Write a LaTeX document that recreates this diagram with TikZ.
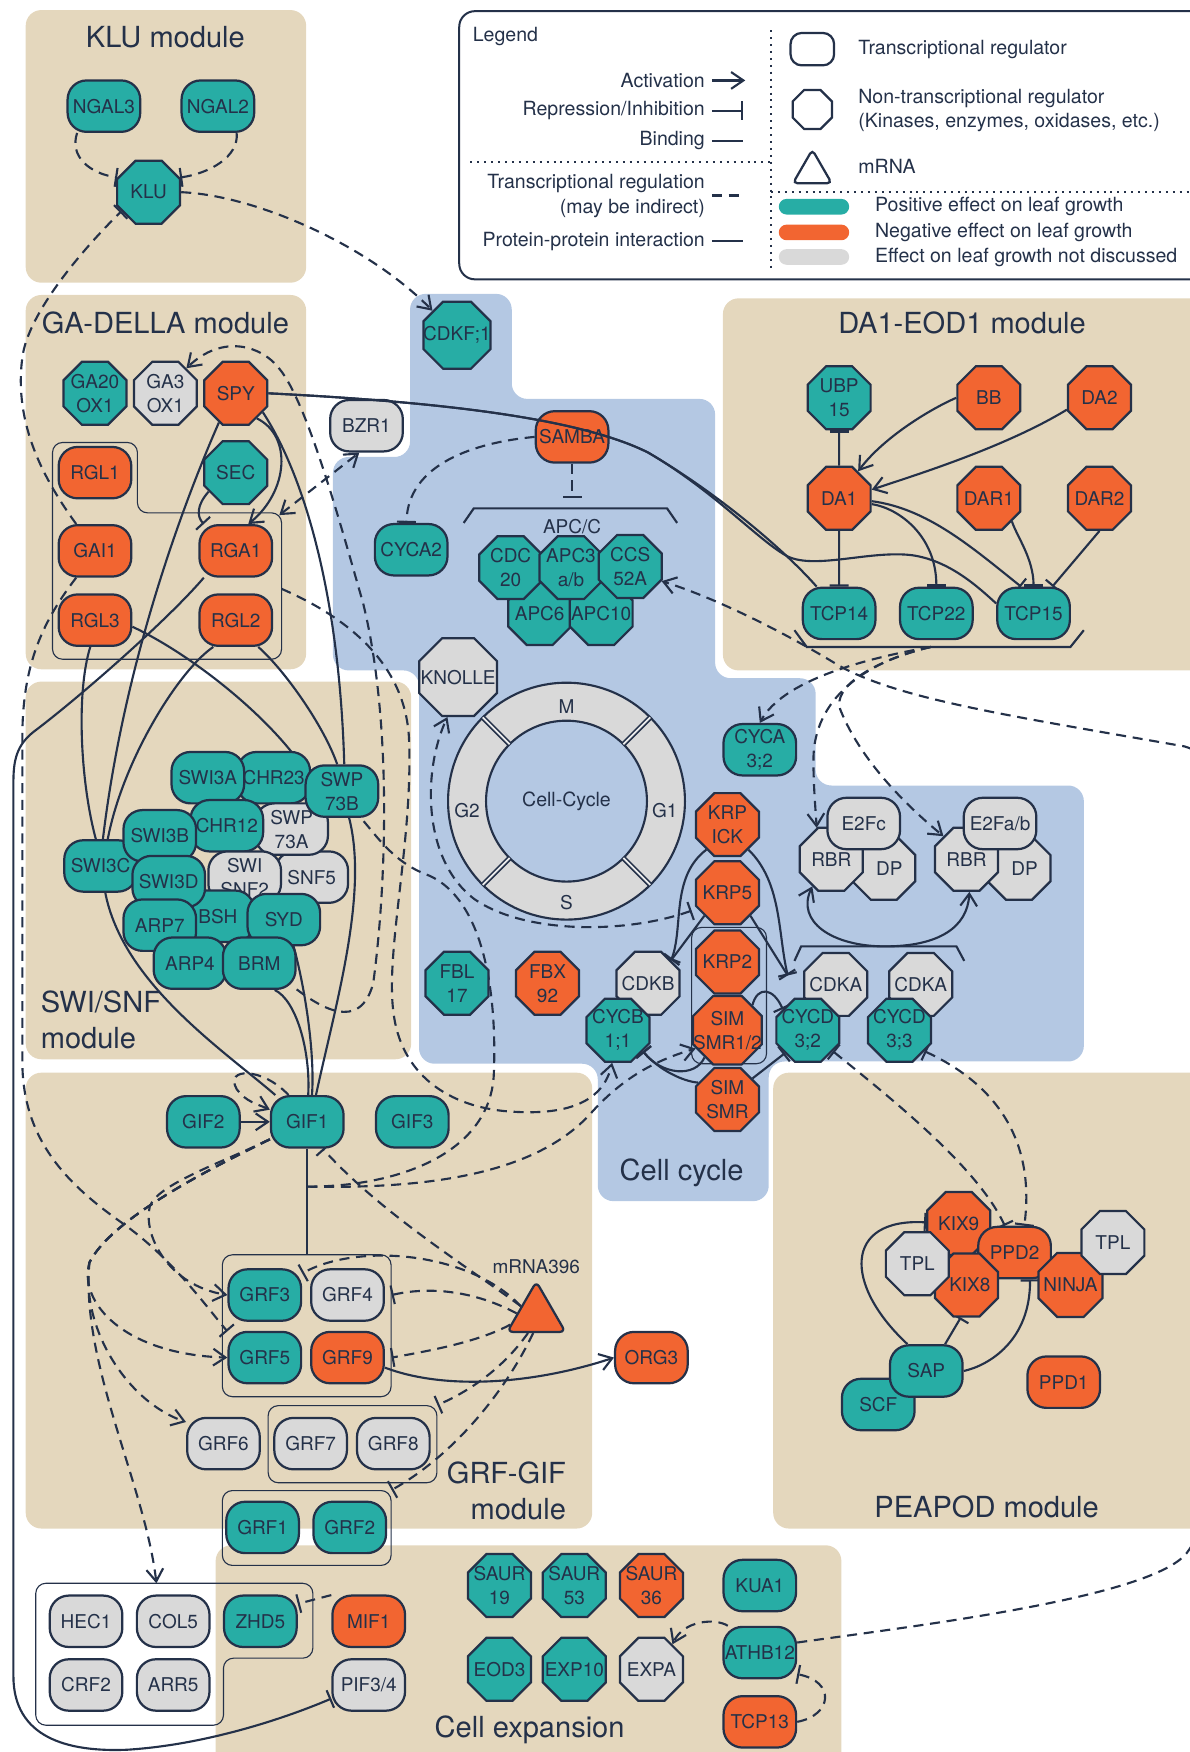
\documentclass[tikz,border=0pt]{standalone}
\usepackage{fontspec}
\setmainfont{TeX Gyre Heros}
\usetikzlibrary{arrows.meta,shapes.geometric}

\definecolor{inkc}{HTML}{243149}
\definecolor{posc}{HTML}{27ADA5}
\definecolor{negc}{HTML}{F26531}
\definecolor{neuc}{HTML}{D9D9D9}
\definecolor{modc}{HTML}{E4D7BD}
\definecolor{cycc}{HTML}{B4C8E3}

\newcommand{\nodefont}{\fontsize{17}{21.5}\selectfont}
\newcommand{\titlefont}{\fontsize{26}{32}\selectfont}
\newcommand{\lgdfont}{\fontsize{17.5}{22}\selectfont}

\pgfdeclarelayer{back}
\pgfdeclarelayer{wire}
\pgfsetlayers{back,wire,main}

\tikzset{
  treg/.style={draw=inkc, line width=2pt, fill=#1, rounded corners=17pt,
    minimum width=65pt, minimum height=46pt, inner sep=0.5pt, align=center,
    text=inkc, font=\nodefont},
  oct/.style={draw=inkc, line width=2pt, fill=#1, regular polygon,
    regular polygon sides=8, minimum size=61pt, inner sep=-9pt, align=center,
    text=inkc, font=\nodefont},
  link/.style={draw=inkc, line width=1.9pt},
  act/.style={link, -{Straight Barb[length=11pt,width=15pt]}},
  inh/.style={link, -{Bar[width=17pt]}},
  both/.style={link, {Straight Barb[length=11pt,width=15pt]}-{Straight Barb[length=11pt,width=15pt]}},
  bars/.style={link, {Bar[width=17pt]}-{Bar[width=17pt]}},
  barto/.style={link, {Bar[width=17pt]}-{Straight Barb[length=11pt,width=15pt]}},
  dsh/.style={dash pattern=on 9pt off 6pt},
  dots/.style={draw=inkc, line width=1.8pt, dash pattern=on 1.8pt off 4.4pt},
  grp/.style={draw=inkc, line width=1pt, rounded corners=9pt},
  modbox/.style={fill=modc, rounded corners=14pt},
  modtitle/.style={text=inkc, font=\titlefont},
  lgd/.style={text=inkc, font=\lgdfont, inner sep=0pt},
  lbl/.style={text=inkc, font=\nodefont, inner sep=0pt},
}

\begin{document}
\begin{tikzpicture}[x=1pt,y=-1pt]
\useasboundingbox (0,0) rectangle (1065,1568);

% module backgrounds
\begin{pgfonlayer}{back}
  \fill[modbox] (23,9) rectangle (274,253);
  \fill[modbox] (23,264) rectangle (274,599);
  \fill[modbox] (23,610) rectangle (368,948);
  \fill[modbox] (23,960) rectangle (530,1368);
  \fill[modbox] (193,1383) rectangle (753,1600);
  \fill[modbox] (647,267) rectangle (1095,600);
  \fill[modbox] (692,960) rectangle (1095,1368);
  % cell cycle area
  \fill[cycc, rounded corners=14pt] (367,263) -- (458,263) -- (458,357) -- (640,357)
    -- (640,607) -- (730,607) -- (730,703) -- (970,703) -- (970,950) -- (688,950)
    -- (688,1075) -- (535,1075) -- (535,952) -- (375,952) -- (375,600) -- (298,600)
    -- (298,409) -- (367,409) -- cycle;
\end{pgfonlayer}

\node[modtitle] (tKLU) at (148,33) {KLU module};
\node[modtitle] (tGA) at (148,289) {GA-DELLA module};
\node[modtitle, anchor=west, align=left] (tSWI) at (33,913) {SWI/SNF\\module};
\node[modtitle, anchor=east, align=right] (tGRF) at (510,1334) {GRF-GIF\\module};
\node[modtitle] (tCC) at (610,1050) {Cell cycle};
\node[modtitle] (tDA) at (861,289) {DA1-EOD1 module};
\node[modtitle] (tPP) at (883,1349) {PEAPOD module};
\node[modtitle] (tCE) at (474,1548) {Cell expansion};

% legend
\draw[inkc, line width=1.8pt, rounded corners=14pt] (411,10) rectangle (1090,250);
\draw[dots] (690,27) -- (690,242);
\draw[dots] (421,145) -- (690,145);
\draw[dots] (690,172) -- (1065,172);
\node[lgd, anchor=west] (lgHead) at (423,33) {Legend};
\node[lgd, anchor=east] (lgAct) at (631,72) {Activation};
\node[lgd, anchor=east] (lgRep) at (631,99) {Repression/Inhibition};
\node[lgd, anchor=east] (lgBin) at (631,126) {Binding};
\node[lgd, anchor=east, align=right] (lgTxr) at (631,175.5) {Transcriptional regulation\\(may be indirect)};
\node[lgd, anchor=east] (lgPpi) at (631,216) {Protein-protein interaction};
\coordinate (la1) at (637,72);  \coordinate (la2) at (667,72);
\coordinate (lr1) at (637,99);  \coordinate (lr2) at (665,99);
\coordinate (lb1) at (637,126); \coordinate (lb2) at (665,126);
\coordinate (lt1) at (637,175); \coordinate (lt2) at (665,175);
\coordinate (lp1) at (637,216); \coordinate (lp2) at (665,216);
\draw[act] (la1) -- (la2);
\draw[inh] (lr1) -- (lr2);
\draw[link] (lb1) -- (lb2);
\draw[link,dsh] (lt1) -- (lt2);
\draw[link] (lp1) -- (lp2);
\node[treg=white, minimum width=39pt, minimum height=29pt, rounded corners=10pt] (lgTR) at (727,44) {};
\node[oct=white, minimum size=38pt] (lgNT) at (727,98) {};
\node[draw=inkc, line width=2pt, fill=white, regular polygon, regular polygon sides=3,
  minimum size=40pt, inner sep=0pt, rounded corners=4pt] (lgMR) at (727,154) {};
\node[lgd, anchor=west] (lgTRt) at (768,44) {Transcriptional regulator};
\node[lgd, anchor=west, align=left] (lgNTt) at (768,99) {Non-transcriptional regulator\\(Kinases, enzymes, oxidases, etc.)};
\node[lgd, anchor=west] (lgMRt) at (768,149) {mRNA};
\fill[posc, rounded corners=7pt] (697,178) rectangle (760,192);
\fill[negc, rounded corners=7pt] (697,201) rectangle (760,215);
\fill[neuc, rounded corners=7pt] (697,223) rectangle (760,237);
\node[lgd, anchor=west] (lgPos) at (783,185) {Positive effect on leaf growth};
\node[lgd, anchor=west] (lgNeg) at (783,208) {Negative effect on leaf growth};
\node[lgd, anchor=west] (lgNeu) at (783,230) {Effect on leaf growth not discussed};

% group outlines
\draw[grp] (47,396) -- (123,396) -- (123,459) -- (252,459) -- (252,590) -- (47,590) -- cycle;
\draw[grp] (32,1417) -- (280,1417) -- (280,1484) -- (200,1484) -- (200,1544) -- (32,1544) -- cycle;
\node[grp, minimum width=151pt, minimum height=127pt, inner sep=0pt] (grfA) at (274.5,1186.5) {};
\node[grp, minimum width=151pt, minimum height=69pt, inner sep=0pt] (grfB) at (315.5,1292.5) {};
\node[grp, minimum width=151pt, minimum height=67pt, inner sep=0pt] (grfC) at (274.5,1367.5) {};
\node[grp, minimum width=67pt, minimum height=122pt, inner sep=0pt] (krpbox) at (652.5,891) {};
\draw[link] (415,468) -- (424,455) -- (597,455) -- (606,468);
\draw[link] (711,860) -- (717,847) -- (856,847) -- (863,860);
\draw[link] (711,564) -- (722,579) -- (958,579) -- (970,564);
\coordinate (apc) at (512,446);
\coordinate (cdkx) at (705,873);
\coordinate (krpbar) at (619,815);
\coordinate (tcpb) at (833,579);
\coordinate (dellaC) at (250,461);
\coordinate (dellaR) at (252,527);
\coordinate (stem) at (275,1062);
\coordinate (hecA) at (140,1417);

% KLU module
\node[treg=posc] (NGAL3) at (93,95) {NGAL3};
\node[treg=posc] (NGAL2) at (195,95) {NGAL2};
\node[oct=posc] (KLU) at (133,172) {KLU};

% GA-DELLA module
\node[oct=posc] (GA20) at (85,352) {GA20\\OX1};
\node[oct=neuc] (GA3) at (148,352) {GA3\\OX1};
\node[oct=negc] (SPY) at (211,352) {SPY};
\node[treg=negc] (RGL1) at (85,423) {RGL1};
\node[oct=posc] (SEC) at (211,423) {SEC};
\node[treg=negc] (GAI1) at (85,493) {GAI1};
\node[treg=negc] (RGA1) at (211,493) {RGA1};
\node[treg=negc] (RGL3) at (85,555) {RGL3};
\node[treg=negc] (RGL2) at (211,555) {RGL2};
\node[treg=neuc] (BZR1) at (328,381) {BZR1};

% cell cycle
\node[oct=posc] (CDKF) at (409,300) {CDKF;1};
\node[treg=negc] (SAMBA) at (512,391) {SAMBA};
\node[treg=posc] (CYCA2) at (368,492) {CYCA2};
\node[lbl] (apcl) at (512,471) {APC/C};
\node[oct=posc] (APC6) at (483,549) {APC6};
\node[oct=posc] (APC10) at (538,549) {APC10};
\node[oct=posc] (CDC20) at (457,508) {CDC\\20};
\node[oct=posc] (APC3) at (511,508) {APC3\\a/b};
\node[oct=posc] (CCS52A) at (564,507) {CCS\\52A};
\node[oct=neuc] (KNOLLE) at (410,606) {KNOLLE};

\coordinate (cc) at (507,717);
\fill[neuc, even odd rule] (cc) circle[radius=106pt] (cc) circle[radius=72pt];
\draw[link] (cc) circle[radius=106pt];
\draw[link] (cc) circle[radius=72pt];
\foreach \a in {45,135,225,315}
  \draw[inkc, line width=1.5pt, double=neuc!50!white, double distance=1.6pt]
    ([shift={(\a:72pt)}]cc) -- ([shift={(\a:106pt)}]cc);
\node[lbl, font=\lgdfont] (ccl) at (cc) {Cell-Cycle};
\node[lbl] (phM) at (507,632) {M};
\node[lbl] (phS) at (507,808) {S};
\node[lbl] (phG1) at (595,725) {G1};
\node[lbl] (phG2) at (418,725) {G2};

\node[treg=posc] (CYCA32) at (680,671) {CYCA\\3;2};
\node[oct=negc] (KRPICK) at (651,738) {KRP\\ICK};
\node[oct=negc] (KRP5) at (651,799) {KRP5};
\node[oct=negc] (KRP2) at (651,861) {KRP2};
\node[oct=negc] (SIM12) at (651,922) {SIM\\SMR1/2};
\node[oct=negc] (SIMS) at (651,984) {SIM\\SMR};
\node[oct=posc] (FBL17) at (409,880) {FBL\\17};
\node[oct=negc] (FBX92) at (490,880) {FBX\\92};
\node[oct=neuc] (CDKB) at (580,880) {CDKB};
\node[oct=posc] (CYCB11) at (553,922) {CYCB\\1;1};
\node[oct=neuc] (CDKA1) at (748,881) {CDKA};
\node[oct=posc] (CYCD32) at (723,922) {CYCD\\3;2};
\node[oct=neuc] (CDKA2) at (824,881) {CDKA};
\node[oct=posc] (CYCD33) at (805,922) {CYCD\\3;3};
\node[oct=neuc] (DP1) at (791,777) {\hspace*{10pt}DP};
\node[oct=neuc] (RBR1) at (744,769) {RBR};
\node[treg=neuc] (E2Fc) at (773,737) {E2Fc};
\node[oct=neuc] (DP2) at (912,777) {\hspace*{10pt}DP};
\node[oct=neuc] (RBR2) at (865,769) {RBR};
\node[treg=neuc] (E2Fab) at (895,737) {E2Fa/b};

% DA1-EOD1 module
\node[oct=posc] (UBP15) at (751,356) {UBP\\15};
\node[oct=negc] (BB) at (885,356) {BB};
\node[oct=negc] (DA2) at (984,356) {DA2};
\node[oct=negc] (DA1) at (751,446) {DA1};
\node[oct=negc] (DAR1) at (885,446) {DAR1};
\node[oct=negc] (DAR2) at (984,446) {DAR2};
\node[treg=posc] (TCP14) at (751,549) {TCP14};
\node[treg=posc] (TCP22) at (838,549) {TCP22};
\node[treg=posc] (TCP15) at (925,549) {TCP15};

% SWI/SNF module
\begin{scope}[every node/.append style={minimum width=62pt}]
\node[treg=posc] (CHR23) at (245,696) {CHR23};
\node[treg=posc] (SWI3A) at (186,696) {SWI3A};
\node[treg=neuc] (SNF5) at (279,785) {SNF5};
\node[treg=neuc] (SWP73A) at (261,742) {SWP\\73A};
\node[treg=posc] (SWP73B) at (306,708) {SWP\\73B};
\node[treg=posc] (CHR12) at (203,739) {CHR12};
\node[treg=posc] (SWI3C) at (90,775) {SWI3C};
\node[treg=neuc] (SWISNF2) at (219,785) {SWI\\SNF2};
\node[treg=posc] (BSH) at (195,820) {BSH};
\node[treg=posc] (SWI3B) at (143,748) {SWI3B};
\node[treg=posc] (SWI3D) at (151,789) {SWI3D};
\node[treg=posc] (ARP7) at (143,828) {ARP7};
\node[treg=posc] (SYD) at (254,823) {SYD};
\node[treg=posc] (ARP4) at (170,862) {ARP4};
\node[treg=posc] (BRM) at (232,862) {BRM};
\end{scope}

% GRF-GIF module
\node[treg=posc] (GIF2) at (182,1004) {GIF2};
\node[treg=posc] (GIF1) at (275,1004) {GIF1};
\node[treg=posc] (GIF3) at (369,1004) {GIF3};
\node[treg=posc] (GRF3) at (237,1159) {GRF3};
\node[treg=neuc] (GRF4) at (311,1159) {GRF4};
\node[treg=posc] (GRF5) at (237,1215) {GRF5};
\node[treg=negc] (GRF9) at (311,1215) {GRF9};
\node[treg=neuc] (GRF6) at (200,1292) {GRF6};
\node[treg=neuc] (GRF7) at (278,1292) {GRF7};
\node[treg=neuc] (GRF8) at (352,1292) {GRF8};
\node[treg=posc] (GRF1) at (235,1367) {GRF1};
\node[treg=posc] (GRF2) at (313,1367) {GRF2};
\node[draw=inkc, line width=2pt, fill=negc, regular polygon, regular polygon sides=3,
  minimum size=60pt, inner sep=0pt, rounded corners=5pt] (mRNA) at (480,1177) {};
\node[lbl] (mRNAl) at (480,1134) {mRNA396};
\node[treg=negc] (ORG3) at (583,1215) {ORG3};

% PEAPOD module
\begin{scope}[every node/.append style={minimum size=59pt}]
\node[oct=negc] (KIX9) at (858,1095) {KIX9};
\node[treg=negc] (PPD2) at (908,1121) {PPD2};
\node[oct=negc] (KIX8) at (865,1150) {\hspace*{6pt}KIX8};
\node[oct=neuc] (TPL1) at (821,1131) {TPL};
\node[oct=negc, minimum size=62pt] (NINJA) at (958,1150) {NINJA};
\node[oct=neuc] (TPL2) at (996,1112) {TPL};
\end{scope}
\node[treg=posc] (SCF) at (786,1257) {SCF};
\node[treg=posc] (SAP) at (829,1227) {SAP};
\node[treg=negc] (PPD1) at (952,1237) {PPD1};

% cell expansion
\begin{scope}[every node/.append style={minimum width=66pt, minimum height=48pt}]
\node[treg=neuc] (HEC1) at (77,1451) {HEC1};
\node[treg=neuc] (COL5) at (155,1451) {COL5};
\node[treg=neuc] (CRF2) at (77,1508) {CRF2};
\node[treg=neuc] (ARR5) at (155,1508) {ARR5};
\node[treg=posc] (ZHD5) at (233,1451) {ZHD5};
\node[treg=negc] (MIF1) at (330,1451) {MIF1};
\node[treg=neuc] (PIF34) at (330,1508) {PIF3/4};
\end{scope}
\node[oct=posc] (SAUR19) at (447,1419) {SAUR\\19};
\node[oct=posc] (SAUR53) at (514,1419) {SAUR\\53};
\node[oct=negc] (SAUR36) at (583,1419) {SAUR\\36};
\node[treg=posc] (KUA1) at (680,1419) {KUA1};
\node[oct=posc] (EOD3) at (447,1494) {EOD3};
\node[oct=posc] (EXP10) at (514,1494) {EXP10};
\node[oct=neuc] (EXPA) at (583,1494) {EXPA};
\node[treg=posc] (ATHB12) at (680,1479) {ATHB12};
\node[treg=negc] (TCP13) at (680,1541) {TCP13};

% lines drawn over SAMBA
\draw[link] (SPY.east) .. controls (400,360) and (520,375) .. (580,405)
  .. controls (640,440) and (700,490) .. (TCP14.130);
\draw[link] (SPY.east) .. controls (400,360) and (520,375) .. (580,405)
  .. controls (640,440) and (680,485) .. (705,498)
  .. controls (730,510) and (780,492) .. (817,497)
  .. controls (850,502) and (875,525) .. (TCP15.165);

\begin{pgfonlayer}{wire}
% KLU module
\draw[inh,dsh] (NGAL3.225) .. controls (62,140) and (80,155) .. (KLU.155);
\draw[inh,dsh] (NGAL2.-55) .. controls (214,140) and (188,155) .. (KLU.25);
\draw[inh,dsh] (GAI1.125) .. controls (40,430) and (12,380) .. (20,320)
  .. controls (25,280) and (75,222) .. (KLU.215);
\draw[act,dsh] (KLU.east) .. controls (230,175) and (330,220) .. (CDKF.135);

% GA-DELLA module
\draw[act] (SPY.-50) .. controls (262,390) and (258,440) .. (RGA1.65);
\draw[inh] (SEC.215) .. controls (176,452) and (176,462) .. (RGA1.140);
\draw[both,dsh] (dellaC) -- (BZR1.255);
\draw[link] (SPY.-120) .. controls (160,460) and (110,600) .. (SWI3C.85);
\draw[link] (RGL3.-100) .. controls (68,620) and (72,700) .. (SWI3C.100);
\draw[link] (RGL2.-130) .. controls (160,600) and (110,680) .. (SWI3C.75);
\draw[link] (RGL3.-10) .. controls (170,585) and (240,640) .. (SWP73B.150);
\draw[link] (RGL2.-50) .. controls (255,600) and (290,650) .. (SWP73B.100);
\draw[link] (SPY.-35) .. controls (275,430) and (304,540) .. (SWP73B.85);
\draw[inh] (RGA1.-140) .. controls (150,555) and (70,625) .. (30,655)
  .. controls (15,667) and (12,680) .. (12,700) -- (12,1500)
  .. controls (12,1555) and (60,1568) .. (113,1566)
  .. controls (180,1562) and (250,1540) .. (PIF34.-160);
\draw[act,dsh] (BRM.-35) .. controls (285,900) and (322,925) .. (334,880)
  .. controls (345,800) and (352,650) .. (325,540)
  .. controls (305,470) and (275,360) .. (250,330)
  .. controls (235,310) and (200,298) .. (GA3.50);
\draw[act,dsh] (dellaR) .. controls (305,550) and (362,590) .. (366,660)
  .. controls (370,750) and (345,850) .. (352,905)
  .. controls (358,960) and (400,992) .. (460,995)
  .. controls (510,998) and (540,985) .. (CYCB11.-100);
\draw[inh,dsh] (GAI1.-125) .. controls (35,560) and (20,600) .. (20,660) -- (20,950)
  .. controls (20,1020) and (60,1060) .. (110,1095)
  .. controls (155,1127) and (185,1170) .. (GRF5.145);

% SWI/SNF to GIF1
\draw[link] (SWI3C.-80) .. controls (110,880) and (200,940) .. (GIF1.140);
\draw[link] (SYD.-70) .. controls (272,880) and (282,940) .. (GIF1.80);
\draw[link] (BRM.-60) .. controls (265,895) and (278,940) .. (GIF1.88);
\draw[link] (SWP73B.-75) .. controls (330,800) and (300,900) .. (GIF1.72);

% cell cycle
\draw[inh,dsh] (SAMBA.south) -- (apc);
\draw[inh,dsh] (SAMBA.west) .. controls (425,396) and (365,415) .. (CYCA2.100);
\draw[barto,dsh] (krpbar) .. controls (560,836) and (470,836) .. (425,805)
  .. controls (378,770) and (378,690) .. (KNOLLE.-105);
\draw[inh] (KRPICK.-130) .. controls (600,785) and (612,830) .. (CDKB.45);
\draw[inh] (KRP5.-135) -- (CDKB.45);
\draw[inh] (KRPICK.-50) .. controls (700,790) and (696,835) .. (cdkx);
\draw[inh] (KRP5.-45) -- (cdkx);
\draw[inh] (SIM12.45) .. controls (678,882) and (692,884) .. (CYCD32.140);
\draw[inh] (SIMS.40) -- (CYCD32.-135);
\draw[inh] (SIM12.-130) .. controls (622,965) and (592,962) .. (CYCB11.-40);
\draw[inh] (SIMS.150) .. controls (612,968) and (590,958) .. (CYCB11.-40);
\draw[both] (RBR1.-125) .. controls (712,825) and (745,847) .. (792,847)
  .. controls (840,847) and (866,830) .. (RBR2.-85);

% DA1-EOD1 module
\draw[inh] (DA1.north) -- (UBP15.south);
\draw[act] (BB.west) .. controls (835,365) and (792,390) .. (DA1.55);
\draw[act] (DA2.200) .. controls (900,400) and (820,425) .. (DA1.15);
\draw[inh] (DA1.south) -- (TCP14.north);
\draw[inh] (DA1.-10) .. controls (805,455) and (838,480) .. (TCP22.north);
\draw[inh] (DA1.-5) .. controls (830,455) and (870,490) .. (TCP15.115);
\draw[inh] (DAR1.-45) .. controls (910,480) and (925,500) .. (TCP15.north);
\draw[inh] (DAR2.south) -- (TCP15.55);
\draw[act,dsh] (tcpb) .. controls (770,590) and (700,610) .. (CYCA32.north);
\draw[act,dsh] (tcpb) .. controls (775,592) and (728,625) .. (728,680)
  .. controls (728,705) and (730,725) .. (RBR1.115);
\draw[act,dsh] (tcpb) .. controls (780,592) and (745,615) .. (752,635)
  .. controls (770,680) and (810,720) .. (RBR2.135);

% PEAPOD module
\draw[bars,dsh] (CYCD32.-40) .. controls (800,985) and (875,1045) .. (PPD2.110);
\draw[bars,dsh] (CYCD33.-40) .. controls (880,965) and (928,1010) .. (PPD2.70);
\draw[inh] (SAP.125) .. controls (755,1150) and (755,1090) .. (KIX9.178);
\draw[inh] (SAP.55) -- (KIX8.-100);
\draw[inh] (SAP.east) .. controls (885,1222) and (922,1200) .. (PPD2.-60);

% GRF-GIF module
\draw[act] (GIF2.east) -- (GIF1.west);
\draw[act,dsh] (GIF1.125) .. controls (235,955) and (200,955) .. (212,975)
  .. controls (220,986) and (230,988) .. (GIF1.162);
\draw[link] (GIF1.south) -- (stem) -- (GIF1.south |- grfA.north);
\draw[act,dsh] (GIF1.-155) .. controls (200,1040) and (140,1060) .. (134,1080)
  .. controls (128,1105) and (150,1150) .. (GRF3.west);
\draw[act,dsh] (GIF1.-155) .. controls (190,1045) and (100,1090) .. (80,1130)
  .. controls (70,1165) and (110,1212) .. (GRF5.west);
\draw[act,dsh] (GIF1.-155) .. controls (190,1045) and (100,1090) .. (80,1130)
  .. controls (72,1190) and (115,1255) .. (GRF6.150);
\draw[act,dsh] (GIF1.-155) .. controls (190,1045) and (100,1090) .. (80,1130)
  .. controls (72,1220) and (130,1330) .. (hecA);
\draw[link,dsh] (stem) .. controls (360,1062) and (440,1030) .. (442,960)
  .. controls (445,880) and (430,800) .. (380,782)
  .. controls (350,770) and (335,745) .. (SWP73B.-55);
\draw[act,dsh] (stem) .. controls (380,1064) and (480,1052) .. (530,995)
  .. controls (560,962) and (590,948) .. (SIM12.-150);
\draw[inh,dsh] (mRNA.150) .. controls (420,1135) and (340,1085) .. (GIF1.-60);
\draw[inh,dsh] (mRNA.150) .. controls (420,1120) and (320,1112) .. (GRF3.30);
\draw[inh,dsh] (mRNA.175) .. controls (430,1158) and (390,1150) .. (grfA.east |- GRF4);
\draw[inh,dsh] (mRNA.200) .. controls (430,1200) and (390,1208) .. (grfA.east |- GRF9);
\draw[inh,dsh] (mRNA.-115) .. controls (450,1225) and (420,1245) .. (grfB.north east);
\draw[inh,dsh] (mRNA.-100) .. controls (455,1240) and (410,1300) .. (grfC.north east);
\draw[act] (GRF9.-15) .. controls (400,1245) and (480,1238) .. (ORG3.west);

% cell expansion
\draw[inh,dsh] (MIF1.145) -- (ZHD5.25);
\draw[act,dsh] (ATHB12.140) .. controls (640,1448) and (612,1450) .. (EXPA.50);
\draw[inh,dsh] (TCP13.east) .. controls (745,1535) and (748,1505) .. (ATHB12.-30);
\draw[act,dsh] (ATHB12.15) .. controls (820,1455) and (1030,1430) .. (1062,1390)
  .. controls (1085,1360) and (1095,1300) .. (1095,1200) -- (1095,760)
  .. controls (1095,700) and (1085,675) .. (1060,668)
  .. controls (900,640) and (800,625) .. (748,594)
  .. controls (700,565) and (640,535) .. (CCS52A.-25);
\end{pgfonlayer}
\end{tikzpicture}
\end{document}
